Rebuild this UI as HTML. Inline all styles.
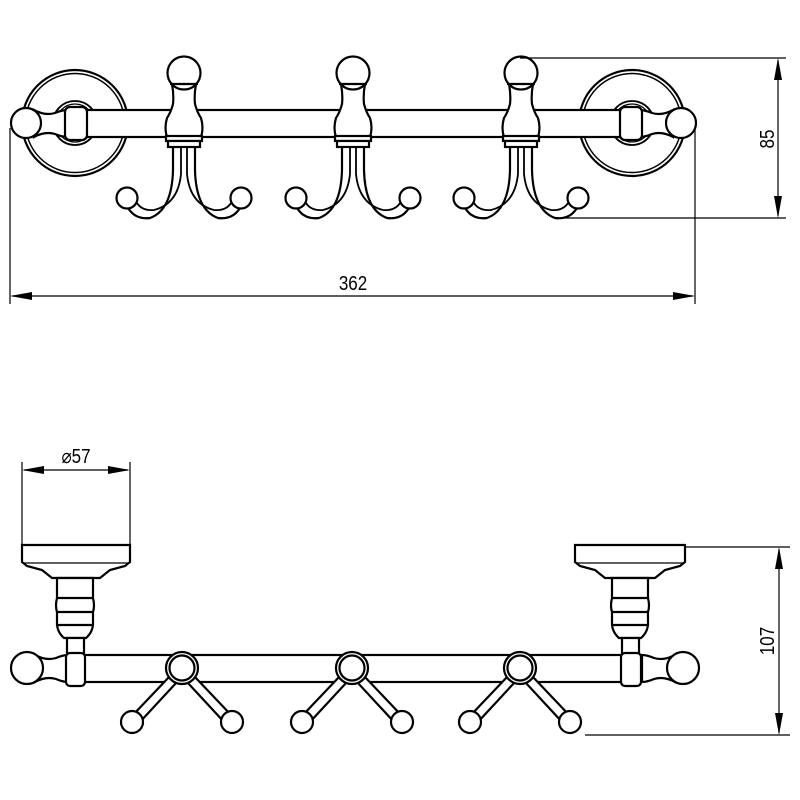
<!DOCTYPE html>
<html><head><style>html,body{margin:0;padding:0;background:#fff}svg{display:block}</style></head>
<body>
<svg width="800" height="800" viewBox="0 0 800 800" xmlns="http://www.w3.org/2000/svg" font-family="Liberation Sans, sans-serif">
<defs>
<g id="hookTop" fill="#fff" stroke="#000" stroke-width="2.2">
  <path d="M-11,147 L-11,170 Q-12,210 -34,218 Q-50,220 -57,206" fill="none"/>
  <path d="M11,147 L11,170 Q12,210 34,218 Q50,220 57,206" fill="none"/>
  <path d="M-3,147 L-3,174 Q-6,204 -30,210 Q-42,211 -47,203" fill="none" stroke-width="1.8"/>
  <path d="M3,147 L3,174 Q6,204 30,210 Q42,211 47,203" fill="none" stroke-width="1.8"/>
  <circle cx="-57" cy="198" r="10.5"/>
  <circle cx="57" cy="198" r="10.5"/>
  <path d="M-12,84 Q-10,95 -11,104 Q-13,112 -17,118 Q-20,128 -17,137 L17,137 Q20,128 17,118 Q13,112 11,104 Q10,95 12,84 Z"/>
  <circle cx="0" cy="73" r="16.5"/>
  <line x1="-14" y1="84" x2="14" y2="84"/>
  <rect x="-18" y="136" width="36" height="5"/>
  <rect x="-16" y="141" width="32" height="6"/>
</g>
<g id="hookBot" fill="#fff" stroke="#000" stroke-width="2.2">
  <path d="M-12,676 L-50,716 L-43,723 L-5,682 Z"/>
  <path d="M12,676 L50,716 L43,723 L5,682 Z"/>
  <circle cx="-50" cy="722" r="11"/>
  <circle cx="50" cy="722" r="11"/>
  <circle cx="0" cy="668" r="16"/>
  <circle cx="0" cy="668" r="12.5"/>
</g>
</defs>

<g fill="#fff" stroke="#000" stroke-width="2.2">
  <circle cx="75" cy="123" r="53"/><circle cx="75" cy="123" r="49.5" stroke-width="1.5"/>
  <circle cx="75" cy="123" r="22" stroke-width="1.8"/><circle cx="75" cy="123" r="19" stroke-width="1.2"/>
  <circle cx="632" cy="123" r="53"/><circle cx="632" cy="123" r="49.5" stroke-width="1.5"/>
  <circle cx="632" cy="123" r="22" stroke-width="1.8"/><circle cx="632" cy="123" r="19" stroke-width="1.2"/>
  <rect x="85" y="110" width="537" height="27" />
  <path d="M34,110 Q45,116 55,113 Q62,110 68,110 L68,137 Q62,137 55,134 Q45,131 34,137 Z"/>
  <circle cx="26" cy="123" r="15"/>
  <rect x="65" y="107" width="22" height="33" rx="5"/>
  <path d="M673,110 Q662,116 652,113 Q645,110 639,110 L639,137 Q645,137 652,134 Q662,131 673,137 Z"/>
  <circle cx="681" cy="123" r="15"/>
  <rect x="620" y="107" width="22" height="33" rx="5"/>
</g>
<use href="#hookTop" x="184"/>
<use href="#hookTop" x="353"/>
<use href="#hookTop" x="521"/>

<g stroke="#000" stroke-width="1.2" fill="none">
  <line x1="520" y1="58" x2="786" y2="58"/>
  <line x1="560" y1="218" x2="786" y2="218"/>
  <line x1="778" y1="60" x2="778" y2="216"/>
  <line x1="10" y1="128" x2="10" y2="304"/>
  <line x1="695" y1="128" x2="695" y2="304"/>
  <line x1="12" y1="296" x2="693" y2="296"/>
</g>
<g fill="#000">
  <path d="M778,58 L774,80 L782,80 Z"/><path d="M778,218 L774,196 L782,196 Z"/>
  <path d="M10,296 L32,292 L32,300 Z"/><path d="M695,296 L673,292 L673,300 Z"/>
</g>
<text transform="translate(353,290) scale(0.85,1)" font-size="20" text-anchor="middle">362</text>
<text transform="translate(774,139) rotate(-90) scale(0.85,1)" font-size="20" text-anchor="middle">85</text>

<g fill="#fff" stroke="#000" stroke-width="2.2">
  <line x1="22" y1="462" x2="22" y2="545" stroke-width="1.2"/>
  <line x1="130" y1="462" x2="130" y2="545" stroke-width="1.2"/>
  <path d="M22,545 L130,545 L130,562 L125,566 L110,570 L100,578 L52,578 L42,570 L27,566 L22,562 Z"/>
  <line x1="24" y1="563" x2="128" y2="563" stroke-width="1.2"/>
  <path d="M57,578 L93,578 L93,598 Q95,606 93,612 L93,625 Q92,633 86,638 L64,638 Q58,633 57,625 L57,612 Q55,606 57,598 Z"/>
  <line x1="57" y1="598" x2="93" y2="598"/><line x1="57" y1="612" x2="93" y2="612"/><line x1="57" y1="625" x2="93" y2="625"/>
  <rect x="67" y="638" width="17" height="16"/>

  <path d="M575,545 L685,545 L685,562 L680,566 L665,570 L655,578 L605,578 L595,570 L580,566 L575,562 Z"/>
  <line x1="577" y1="563" x2="683" y2="563" stroke-width="1.2"/>
  <path d="M612,578 L648,578 L648,598 Q650,606 648,612 L648,625 Q647,633 641,638 L619,638 Q613,633 612,625 L612,612 Q610,606 612,598 Z"/>
  <line x1="612" y1="598" x2="648" y2="598"/><line x1="612" y1="612" x2="648" y2="612"/><line x1="612" y1="625" x2="648" y2="625"/>
  <rect x="622" y="638" width="17" height="16"/>

  <rect x="80" y="655" width="548" height="27"/>
  <path d="M35,655 Q46,661 56,658 Q63,655 68,655 L68,682 Q63,682 56,679 Q46,676 35,682 Z"/>
  <circle cx="27" cy="668" r="16"/>
  <rect x="66" y="653" width="19" height="33" rx="4"/>
  <path d="M675,655 Q664,661 654,658 Q647,655 642,655 L642,682 Q647,682 654,679 Q664,676 675,682 Z"/>
  <circle cx="683" cy="668" r="16"/>
  <rect x="621" y="653" width="20" height="33" rx="4"/>
</g>
<use href="#hookBot" x="182"/>
<use href="#hookBot" x="352"/>
<use href="#hookBot" x="520"/>

<g stroke="#000" stroke-width="1.2" fill="none">
  <line x1="24" y1="470" x2="128" y2="470"/>
  <line x1="685" y1="547" x2="790" y2="547"/>
  <line x1="585" y1="735" x2="790" y2="735"/>
  <line x1="779" y1="549" x2="779" y2="733"/>
</g>
<g fill="#000">
  <path d="M22,470 L44,466 L44,474 Z"/><path d="M130,470 L108,466 L108,474 Z"/>
  <path d="M779,547 L775,569 L783,569 Z"/><path d="M779,735 L775,713 L783,713 Z"/>
</g>
<text transform="translate(76,463) scale(0.85,1)" font-size="20" text-anchor="middle">⌀57</text>
<text transform="translate(774,641) rotate(-90) scale(0.85,1)" font-size="20" text-anchor="middle">107</text>
</svg>
</body></html>
